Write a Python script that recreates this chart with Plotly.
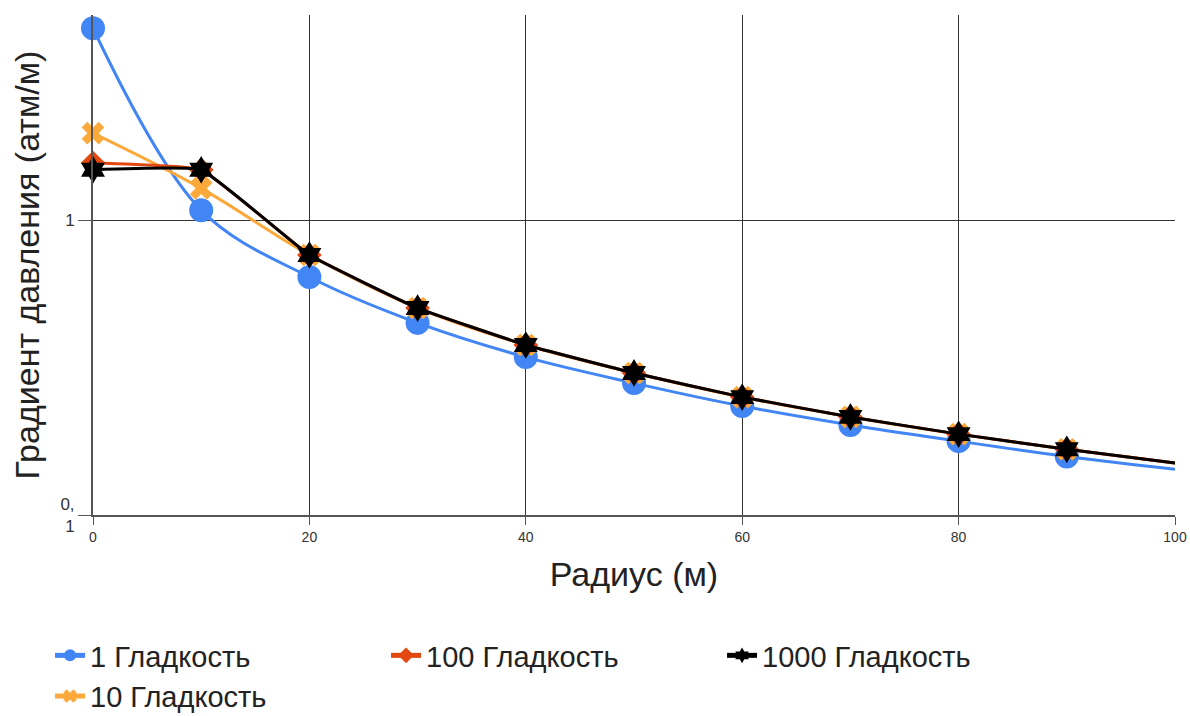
import plotly.graph_objects as go

radius = [0, 10, 20, 30, 40, 50, 60, 70, 80, 90, 100]
s1 = [4.47, 1.08, 0.641, 0.448, 0.343, 0.280, 0.234, 0.202, 0.178, 0.158, 0.143]
s10 = [1.97, 1.28, 0.761, 0.503, 0.377, 0.303, 0.251, 0.215, 0.188, 0.167, 0.150]
s100 = [1.56, 1.48, 0.761, 0.503, 0.377, 0.303, 0.251, 0.215, 0.188, 0.167, 0.150]
s1000 = [1.48, 1.48, 0.761, 0.503, 0.377, 0.303, 0.251, 0.215, 0.188, 0.167, 0.150]
names = ["1 Гладкость", "10 Гладкость", "100 Гладкость", "1000 Гладкость"]
x_ticks = [0, 20, 40, 60, 80, 100]
y_ticks = [0.1, 1]
y_tick_text = ["0,<br>1", "1"]

FONT = "Liberation Sans, Arial, sans-serif"

series = [s1, s10, s100, s1000]
colors = ["#4285F4", "#FBA93A", "#E2480F", "#000000"]
symbols = ["circle", "x", "diamond", "hexagram"]
sizes = [24, 20, 19, 21]
ranks = [1, 4, 2, 3]
smooth = [1.0, 1.0, 0.3, 0.3]

fig = go.Figure()
for vals, name, col, sym, sz, rk, sm in zip(series, names, colors, symbols, sizes, ranks, smooth):
    msize = [sz] * (len(vals) - 1) + [0]
    fig.add_trace(go.Scatter(
        x=radius, y=vals, name=name, mode="lines+markers",
        line=dict(color=col, width=3, shape="spline", smoothing=sm),
        marker=dict(symbol=sym, size=msize, color=col, opacity=1, line=dict(width=0)),
        legendrank=rk, cliponaxis=False,
    ))

fig.update_layout(
    width=1190, height=716,
    margin=dict(l=93, r=15, t=15, b=201, autoexpand=False),
    paper_bgcolor="white", plot_bgcolor="white",
    font=dict(family=FONT, color="#222222"),
    showlegend=True,
    legend=dict(
        orientation="h", x=-0.0397, xanchor="left", y=-0.23, yanchor="top",
        font=dict(size=29, family=FONT, color="#222222"),
        entrywidth=291, itemsizing="constant",
        traceorder="normal", tracegroupgap=0,
    ),
    xaxis=dict(
        range=[0, 100], tickvals=x_ticks, ticktext=[str(v) for v in x_ticks],
        showgrid=True, gridcolor="#333333", gridwidth=1,
        showline=True, linecolor="#555555", linewidth=2,
        ticks="outside", ticklen=8, tickcolor="#555555",
        tickfont=dict(size=14, color="#333333", family=FONT),
        zeroline=False, automargin=False,
        title=dict(text="Радиус (м)", font=dict(size=34, color="#222222", family=FONT), standoff=18),
    ),
    yaxis=dict(
        type="log", range=[-1, 0.695], tickvals=y_ticks, ticktext=y_tick_text,
        showgrid=True, gridcolor="#333333", gridwidth=1,
        showline=True, linecolor="#555555", linewidth=2,
        ticks="outside", ticklen=13, tickcolor="#555555",
        tickfont=dict(size=17, color="#333333", family=FONT),
        zeroline=False, automargin=False,
        title=dict(text="Градиент давления (атм/м)", font=dict(size=34, color="#222222", family=FONT), standoff=11),
    ),
)

fig.write_html("out.html")
